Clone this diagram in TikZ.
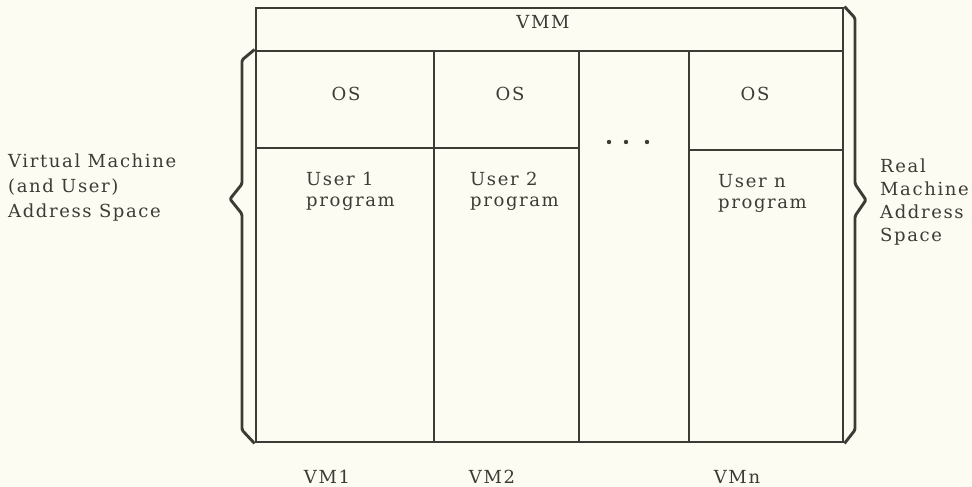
\documentclass[tikz,border=0pt]{standalone}
\usepackage{fontspec}
\setmainfont{DejaVu Serif}[LetterSpace=9]
\usetikzlibrary{fit}
\definecolor{ink}{RGB}{62,58,54}
\definecolor{paper}{RGB}{252,252,243}
\begin{document}
\begin{tikzpicture}[x=1pt,y=-1pt,
  cell/.style={draw=ink, line width=2.9pt, inner sep=0pt, rectangle},
  brace/.style={draw=ink, line width=2.9pt, line join=round, rounded corners=1.5pt},
  lbl/.style={text=ink, inner sep=0pt, font=\fontsize{18}{21}\selectfont},
  side/.style={text=ink, inner sep=0pt, align=left, anchor=north west},
  dot/.style={circle, fill=ink, inner sep=0pt, minimum size=4.4pt}]
\fill[paper] (0,0) rectangle (972,487);
\useasboundingbox (0,0) rectangle (972,487);
% cells
\node[cell, fit={(256,8) (843,51)}] (vmm) {};
\node[cell, fit={(256,51) (434,148)}] (os1) {};
\node[cell, fit={(256,148) (434,442)}] (u1) {};
\node[cell, fit={(434,51) (579,148)}] (os2) {};
\node[cell, fit={(434,148) (579,442)}] (u2) {};
\node[cell, fit={(579,51) (689,442)}] (mid) {};
\node[cell, fit={(689,51) (843,150)}] (osn) {};
\node[cell, fit={(689,150) (843,442)}] (un) {};
% braces
\draw[brace] (os1.north west) -- (242,60) -- (242,184) -- (230,199) -- (242,214) -- (242,430) -- (u1.south west);
\draw[brace] (vmm.north east) -- (855,18) -- (855,184) -- (866,200) -- (855,216) -- (855,430) -- (un.south east);
% texts
\node[lbl] (tvmm) at (543,22) {VMM};
\node[lbl] (tos1) at (346,94) {OS};
\node[lbl] (tos2) at (510,94) {OS};
\node[lbl] (tosn) at (755,94) {OS};
\node[lbl, side] (tu1) at (306,172) {User 1\\program};
\node[lbl, side] (tu2) at (470,172) {User 2\\program};
\node[lbl, side] (tun) at (718,174) {User n\\program};
\node[dot] (d1) at (609,142) {};
\node[dot] (d2) at (626,142) {};
\node[dot] (d3) at (647,142) {};
\node[lbl, side, font=\fontsize{18}{25}\selectfont] (tleft) at (8,154) {Virtual Machine\\(and User)\\Address Space};
\node[lbl, side, font=\fontsize{18}{23}\selectfont] (tright) at (880,159) {Real\\Machine\\Address\\Space};
\node[lbl, anchor=base] (vm1) at (327,483) {VM1};
\node[lbl, anchor=base] (vm2) at (492,483) {VM2};
\node[lbl, anchor=base] (vmn) at (737,483) {VMn};
\end{tikzpicture}
\end{document}
